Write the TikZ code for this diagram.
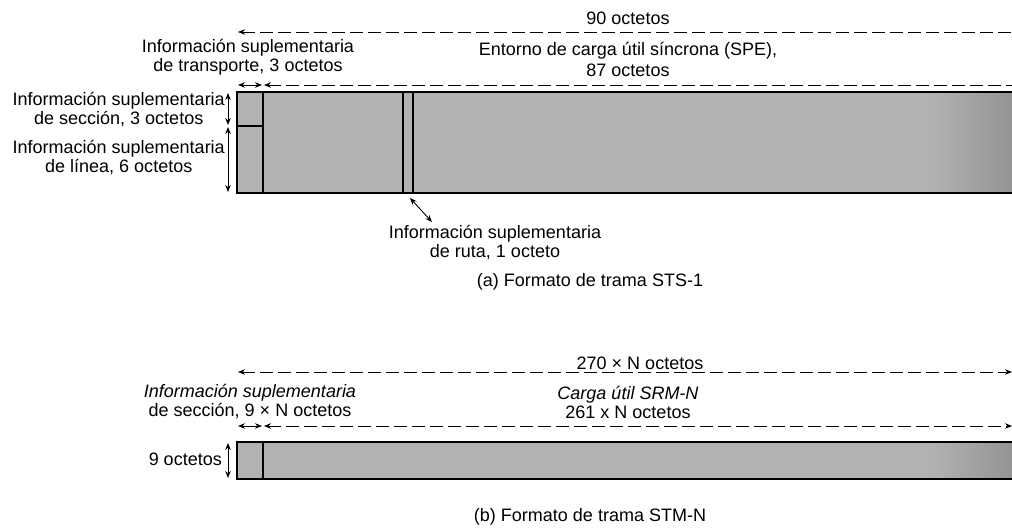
\documentclass[tikz,border=0pt]{standalone}
\usepackage{fontspec}
\setmainfont{Liberation Sans}
\usetikzlibrary{arrows.meta}
\begin{document}
\begin{tikzpicture}[x=1pt,y=-1pt,
  lbl/.style={font=\fontsize{18}{20}\selectfont, inner sep=0pt, align=center},
  payload/.style={fill=black!30},
  frame/.style={line width=2.6pt, line join=miter},
  divider/.style={line width=2.2pt},
  dimline/.style={line width=0.9pt, dash pattern=on 13pt off 5pt},
  solidarrow/.style={line width=0.9pt},
  tipL/.style={{Stealth[length=7pt,width=5.5pt]}-},
  tipB/.style={{Stealth[length=7pt,width=5.5pt]}-{Stealth[length=7pt,width=5.5pt]}}
]
\useasboundingbox (0,0) rectangle (1012,530);

% ---------------- (a) STS-1 ----------------
\coordinate (aTL) at (237,92);
\coordinate (aBL) at (237,193);
\coordinate (aTR) at (1012,92);
\coordinate (aBR) at (1012,193);
\fill[payload] (aTL) rectangle (aBR);
\shade[left color=black!30, right color=black!42] (930,93) rectangle (1012,192);
\coordinate (tohT) at (263,92);
\coordinate (tohB) at (263,193);
\coordinate (sohL) at (237,126);
\coordinate (sohR) at (263,126);
\coordinate (poh1T) at (403,92);
\coordinate (poh1B) at (403,193);
\coordinate (poh2T) at (413,92);
\coordinate (poh2B) at (413,193);
\draw[divider] (tohT) -- (tohB);
\draw[divider] (sohL) -- (sohR);
\draw[divider] (poh1T) -- (poh1B);
\draw[divider] (poh2T) -- (poh2B);
\draw[frame] (aTR) -- (aTL) -- (aBL) -- (aBR);

% dimension lines
\node[lbl] (n90) at (628,18) {90 octetos};
\coordinate (d90L) at (238,32);
\coordinate (d90R) at (1012,32);
\draw[dimline, tipL] (d90L) -- (d90R);

\node[lbl] (ntoh) at (248,57.5) {Información suplementaria\\[-1pt]de transporte, 3 octetos};
\node[lbl] (nspe) at (628,59) {Entorno de carga útil síncrona (SPE),\\[1pt]87 octetos};

\coordinate (dtL) at (238,85);
\coordinate (dtR) at (262,85);
\coordinate (dsL) at (264,85);
\coordinate (dsR) at (1012,85);
\draw[solidarrow, tipB] (dtL) -- (dtR);
\draw[dimline, tipL] (dsL) -- (dsR);

% left vertical labels
\node[lbl, anchor=east] (nsoh) at (225,110) {Información suplementaria\\[-1pt]de sección, 3 octetos};
\node[lbl, anchor=east] (nloh) at (225,158) {Información suplementaria\\[-1pt]de línea, 6 octetos};
\coordinate (vs1) at (228,93);
\coordinate (vs2) at (228,125);
\coordinate (vl1) at (228,127);
\coordinate (vl2) at (228,192);
\draw[solidarrow, tipB] (vs1) -- (vs2);
\draw[solidarrow, tipB] (vl1) -- (vl2);

% path overhead
\coordinate (pA) at (410,198);
\coordinate (pB) at (432,222);
\draw[solidarrow, tipB] (pA) -- (pB);
\node[lbl] (npoh) at (495,243) {Información suplementaria\\[-1pt]de ruta, 1 octeto};

\node[lbl] (capa) at (590,282) {(a) Formato de trama STS-1};

% ---------------- (b) STM-N ----------------
\node[lbl] (n270) at (640,363) {270 × N octetos};
\coordinate (d270L) at (238,372);
\coordinate (d270R) at (1012,372);
\draw[dimline, tipB] (d270L) -- (d270R);

\node[lbl] (nsohb) at (250,402) {\itshape Información suplementaria\\[-1pt]de sección, 9 × N octetos};
\node[lbl] (npay) at (628,402) {\itshape Carga útil SRM-N\\[-1pt]261 x N octetos};

\coordinate (bsL) at (238,426);
\coordinate (bsR) at (262,426);
\coordinate (bpL) at (264,426);
\coordinate (bpR) at (1012,426);
\draw[solidarrow, tipB] (bsL) -- (bsR);
\draw[dimline, tipB] (bpL) -- (bpR);

\coordinate (bTL) at (237,442);
\coordinate (bBL) at (237,479);
\coordinate (bTR) at (1012,442);
\coordinate (bBR) at (1012,479);
\fill[payload] (bTL) rectangle (bBR);
\shade[left color=black!30, right color=black!42] (930,443) rectangle (1012,478);
\coordinate (bdT) at (263,442);
\coordinate (bdB) at (263,479);
\draw[divider] (bdT) -- (bdB);
\draw[frame] (bTR) -- (bTL) -- (bBL) -- (bBR);

\node[lbl, anchor=east] (n9) at (222,459) {9 octetos};
\coordinate (v9a) at (228,443);
\coordinate (v9b) at (228,478);
\draw[solidarrow, tipB] (v9a) -- (v9b);

\node[lbl] (capb) at (590,517) {(b) Formato de trama STM-N};
\end{tikzpicture}
\end{document}
